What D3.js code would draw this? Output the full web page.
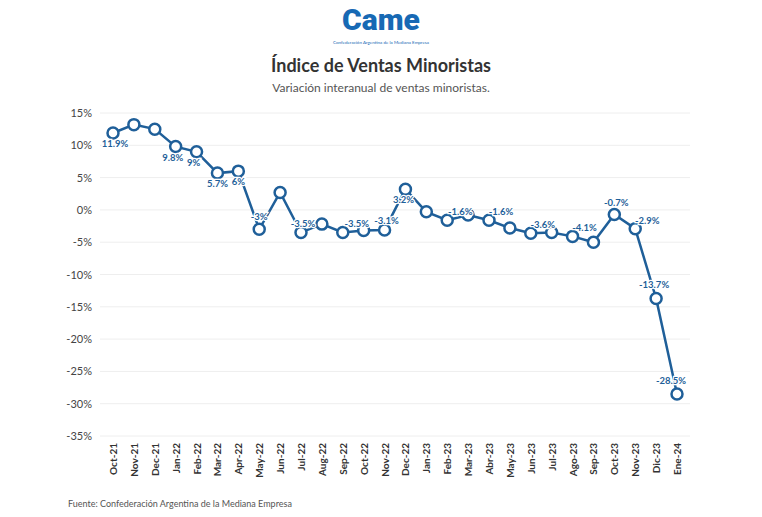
<!DOCTYPE html>
<html><head><meta charset="utf-8">
<script src="https://cdn.jsdelivr.net/npm/d3@7"></script>
<style>body{margin:0;background:#fff;font-family:Lato,"Open Sans",sans-serif;}</style>
</head><body><svg id="chart" width="762" height="517"></svg>
<script>
const months = ["Oct-21","Nov-21","Dec-21","Jan-22","Feb-22","Mar-22","Apr-22","May-22","Jun-22","Jul-22","Aug-22","Sep-22","Oct-22","Nov-22","Dec-22","Jan-23","Feb-23","Mar-23","Abr-23","May-23","Jun-23","Jul-23","Ago-23","Sep-23","Oct-23","Nov-23","Dic-23","Ene-24"];
const values = [11.9,13.2,12.5,9.8,9.0,5.7,6.0,-3.0,2.7,-3.5,-2.2,-3.5,-3.2,-3.1,3.2,-0.3,-1.6,-0.8,-1.6,-2.8,-3.6,-3.5,-4.1,-5.0,-0.7,-2.9,-13.7,-28.5];
const labels = ["11.9%",null,null,"9.8%","9%","5.7%","6%","-3%",null,"-3.5%",null,"-3.5%",null,"-3.1%","3.2%",null,"-1.6%",null,"-1.6%",null,"-3.6%",null,"-4.1%",null,"-0.7%","-2.9%","-13.7%","-28.5%"];
const yTicks = [15,10,5,0,-5,-10,-15,-20,-25,-30,-35];
// label offsets [dx, dy] by index
const off = {0:[2,14],3:[-3,14],4:[-3,14],5:[0,14],6:[0,14],7:[0,-9],9:[2,-6],11:[14,-6],13:[2,-6],14:[-2,14],16:[13,-5],18:[12,-5],20:[12,-5],22:[12,-5],24:[2,-8],25:[12,-5],26:[-2,-10],27:[-6,-10]};

const color = "#1f5f99";
const svg = d3.select("#chart");
const x = d3.scalePoint().domain(months).range([113, 677]);
const y = d3.scaleLinear().domain([-35, 15]).range([436, 113]);

// logo
svg.append("text").text("Came").attr("x",381).attr("y",30).attr("text-anchor","middle")
	.attr("font-size",30).attr("font-weight",900).attr("fill","#1769b4").attr("font-family","Roboto, sans-serif");
svg.append("text").text("Confederación Argentina de la Mediana Empresa").attr("x",381).attr("y",44)
	.attr("text-anchor","middle").attr("font-size",4.5).attr("fill","#1769b4");

svg.append("text").text("Índice de Ventas Minoristas").attr("x",381).attr("y",72)
	.attr("text-anchor","middle").attr("font-size",18).attr("font-weight",700).attr("fill","#333");
svg.append("text").text("Variación interanual de ventas minoristas.").attr("x",381).attr("y",92)
	.attr("text-anchor","middle").attr("font-size",12).attr("fill","#555");

// grid + y axis
yTicks.forEach(t => {
	svg.append("line").attr("x1",100).attr("x2",690).attr("y1",y(t)).attr("y2",y(t))
		.attr("stroke","#eee").attr("stroke-width",1);
	svg.append("text").text(t + "%").attr("x",92).attr("y",y(t)+4).attr("text-anchor","end")
		.attr("font-size",11).attr("fill","#444");
});

// x labels
months.forEach(m => {
	svg.append("text").text(m).attr("transform",`translate(${x(m)+4},${443}) rotate(-90)`)
		.attr("text-anchor","end").attr("font-size",10).attr("font-weight",700).attr("fill","#333");
});

const line = d3.line().x((d,i) => x(months[i])).y(d => y(d));
svg.append("path").datum(values).attr("d",line).attr("fill","none").attr("stroke",color).attr("stroke-width",2.5);
svg.selectAll("circle.pt").data(values).enter().append("circle")
	.attr("cx",(d,i) => x(months[i])).attr("cy",d => y(d)).attr("r",5.5)
	.attr("fill","#fff").attr("stroke",color).attr("stroke-width",2.5);

labels.forEach((l,i) => {
	if (!l) return;
	const o = off[i] || [0,14];
	svg.append("text").text(l).attr("x",x(months[i])+o[0]).attr("y",y(values[i])+o[1])
		.attr("text-anchor","middle").attr("font-size",9.5).attr("font-weight",700).attr("fill",color)
		.attr("stroke","#fff").attr("stroke-width",2.5).attr("paint-order","stroke");
});

svg.append("text").text("Fuente: Confederación Argentina de la Mediana Empresa").attr("x",68).attr("y",507)
	.attr("font-size",9).attr("fill","#555");
</script></body></html>
